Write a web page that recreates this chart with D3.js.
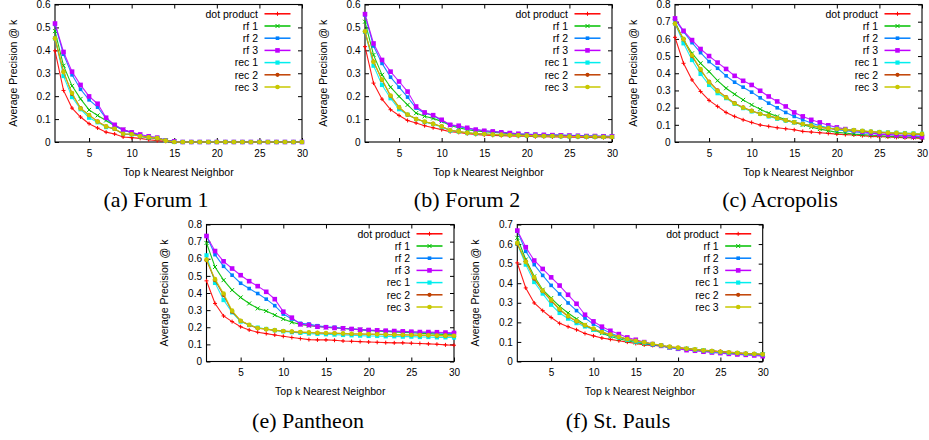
<!DOCTYPE html>
<html><head><meta charset="utf-8">
<script src="https://cdn.jsdelivr.net/npm/d3@7"></script>
<style>body{margin:0;background:#fff}</style>
</head><body>
<svg id="chart" width="929" height="440"></svg>
<script>
// ---------- data ----------
const kValues = [1,2,3,4,5,6,7,8,9,10,11,12,13,14,15,16,17,18,19,20,21,22,23,24,25,26,27,28,29,30];
const seriesNames = ["dot product","rf 1","rf 2","rf 3","rec 1","rec 2","rec 3"];
const seriesColors = ["#ff0000","#00c000","#0080ff","#c000ff","#00eeee","#c04000","#c8c800"];
const xTickValues = [5,10,15,20,25,30];
const yTicks06 = [0,0.1,0.2,0.3,0.4,0.5,0.6];
const yTicks07 = [0,0.1,0.2,0.3,0.4,0.5,0.6,0.7];
const yTicks08 = [0,0.1,0.2,0.3,0.4,0.5,0.6,0.7,0.8];
const panelCaptions = ["(a) Forum 1","(b) Forum 2","(c) Acropolis","(e) Pantheon","(f) St. Pauls"];
const xTitle = "Top k Nearest Neighbor";
const yTitle = "Average Precision @ k";

const forum1 = [
 [0.398,0.225,0.148,0.109,0.080,0.061,0.043,0.035,0.022,0.019,0.016,0.010,0.006,0.003,0,0,0,0,0,0,0,0,0,0,0,0,0,0,0,0],
 [0.484,0.333,0.245,0.188,0.140,0.116,0.094,0.071,0.054,0.040,0.025,0.019,0.016,0.007,0.003,0,0,0,0,0,0,0,0,0,0,0,0,0,0,0],
 [0.513,0.383,0.293,0.230,0.184,0.152,0.103,0.071,0.051,0.042,0.028,0.022,0.019,0.007,0.003,0,0,0,0,0,0,0,0,0,0,0,0,0,0,0],
 [0.517,0.393,0.307,0.249,0.199,0.167,0.106,0.075,0.054,0.042,0.033,0.025,0.019,0.007,0.003,0,0,0,0,0,0,0,0,0,0,0,0,0,0,0],
 [0.452,0.288,0.196,0.143,0.106,0.086,0.065,0.057,0.035,0.033,0.025,0.020,0.017,0.006,0,0,0,0,0,0,0,0,0,0,0,0,0,0,0,0],
 [0.452,0.307,0.210,0.148,0.117,0.090,0.068,0.057,0.035,0.034,0.025,0.020,0.017,0.006,0,0,0,0,0,0,0,0,0,0,0,0,0,0,0,0],
 [0.452,0.305,0.214,0.146,0.118,0.089,0.068,0.058,0.036,0.034,0.025,0.021,0.017,0.006,0,0,0,0,0,0,0,0,0,0,0,0,0,0,0,0]
];
const forum2 = [
 [0.416,0.257,0.187,0.141,0.116,0.094,0.083,0.071,0.062,0.054,0.045,0.042,0.036,0.033,0.030,0.029,0.028,0.026,0.025,0.025,0.023,0.023,0.022,0.022,0.021,0.021,0.020,0.020,0.019,0.019],
 [0.525,0.380,0.293,0.239,0.199,0.162,0.126,0.112,0.103,0.090,0.072,0.062,0.054,0.048,0.045,0.042,0.039,0.036,0.033,0.032,0.031,0.030,0.029,0.028,0.027,0.026,0.025,0.024,0.024,0.023],
 [0.554,0.419,0.343,0.283,0.239,0.196,0.148,0.126,0.116,0.094,0.074,0.068,0.059,0.054,0.049,0.046,0.043,0.039,0.036,0.035,0.033,0.032,0.031,0.030,0.029,0.028,0.027,0.026,0.025,0.025],
 [0.558,0.430,0.358,0.307,0.264,0.220,0.155,0.129,0.117,0.097,0.075,0.071,0.062,0.054,0.049,0.046,0.042,0.039,0.036,0.033,0.032,0.031,0.030,0.029,0.028,0.027,0.026,0.026,0.025,0.025],
 [0.481,0.333,0.249,0.191,0.143,0.119,0.100,0.087,0.078,0.065,0.049,0.045,0.039,0.036,0.035,0.033,0.031,0.030,0.029,0.028,0.027,0.026,0.026,0.025,0.024,0.024,0.023,0.023,0.022,0.022],
 [0.481,0.351,0.271,0.201,0.151,0.119,0.101,0.088,0.080,0.068,0.051,0.046,0.040,0.037,0.035,0.033,0.031,0.030,0.029,0.028,0.027,0.026,0.026,0.025,0.024,0.024,0.023,0.023,0.022,0.022],
 [0.483,0.349,0.273,0.203,0.152,0.120,0.100,0.089,0.079,0.068,0.051,0.046,0.040,0.037,0.035,0.033,0.032,0.030,0.029,0.028,0.027,0.026,0.026,0.025,0.024,0.024,0.023,0.023,0.022,0.022]
];
const acropolis = [
 [0.609,0.458,0.361,0.294,0.242,0.207,0.172,0.149,0.129,0.114,0.099,0.091,0.083,0.077,0.071,0.062,0.058,0.054,0.050,0.046,0.043,0.041,0.037,0.033,0.031,0.029,0.027,0.025,0.023,0.021],
 [0.700,0.593,0.516,0.458,0.410,0.357,0.313,0.278,0.245,0.216,0.191,0.168,0.149,0.129,0.114,0.100,0.087,0.075,0.066,0.056,0.052,0.046,0.043,0.039,0.037,0.033,0.031,0.029,0.027,0.025],
 [0.713,0.642,0.578,0.520,0.468,0.429,0.385,0.348,0.319,0.290,0.257,0.226,0.199,0.172,0.149,0.129,0.110,0.095,0.081,0.071,0.066,0.060,0.054,0.050,0.046,0.043,0.041,0.039,0.037,0.033],
 [0.719,0.647,0.593,0.541,0.500,0.462,0.425,0.385,0.356,0.332,0.298,0.265,0.236,0.207,0.172,0.149,0.129,0.114,0.097,0.085,0.075,0.066,0.060,0.052,0.046,0.043,0.039,0.035,0.033,0.029],
 [0.690,0.574,0.477,0.396,0.332,0.284,0.255,0.222,0.197,0.178,0.164,0.149,0.135,0.124,0.114,0.104,0.097,0.089,0.083,0.077,0.071,0.068,0.064,0.060,0.058,0.056,0.054,0.052,0.050,0.048],
 [0.690,0.597,0.500,0.419,0.352,0.300,0.261,0.226,0.201,0.182,0.164,0.153,0.139,0.126,0.114,0.104,0.095,0.085,0.079,0.075,0.071,0.068,0.064,0.060,0.056,0.052,0.050,0.048,0.046,0.044],
 [0.688,0.600,0.505,0.424,0.348,0.296,0.259,0.224,0.199,0.180,0.163,0.152,0.138,0.126,0.115,0.105,0.096,0.086,0.080,0.076,0.072,0.069,0.065,0.061,0.058,0.055,0.053,0.051,0.049,0.047]
];
const pantheon = [
 [0.471,0.339,0.266,0.233,0.203,0.184,0.171,0.163,0.155,0.147,0.140,0.134,0.128,0.126,0.126,0.124,0.120,0.118,0.116,0.114,0.112,0.110,0.109,0.109,0.107,0.105,0.103,0.101,0.097,0.095],
 [0.692,0.552,0.475,0.417,0.374,0.339,0.310,0.295,0.271,0.248,0.229,0.217,0.209,0.205,0.200,0.196,0.193,0.189,0.186,0.182,0.179,0.176,0.173,0.170,0.168,0.165,0.163,0.160,0.158,0.156],
 [0.733,0.624,0.556,0.504,0.457,0.426,0.397,0.364,0.326,0.277,0.248,0.223,0.219,0.209,0.203,0.200,0.194,0.190,0.186,0.182,0.180,0.178,0.176,0.174,0.172,0.171,0.169,0.167,0.165,0.163],
 [0.733,0.645,0.585,0.543,0.504,0.469,0.440,0.407,0.364,0.291,0.256,0.217,0.213,0.203,0.200,0.196,0.194,0.190,0.186,0.184,0.182,0.180,0.178,0.176,0.174,0.172,0.172,0.171,0.169,0.167],
 [0.620,0.459,0.359,0.287,0.233,0.213,0.198,0.190,0.182,0.176,0.171,0.167,0.163,0.161,0.159,0.157,0.155,0.153,0.151,0.149,0.149,0.147,0.147,0.145,0.145,0.143,0.143,0.141,0.141,0.140],
 [0.591,0.475,0.388,0.291,0.238,0.213,0.194,0.188,0.182,0.178,0.174,0.171,0.169,0.167,0.165,0.165,0.163,0.161,0.161,0.159,0.159,0.157,0.157,0.155,0.155,0.153,0.153,0.151,0.151,0.149],
 [0.595,0.481,0.397,0.297,0.238,0.214,0.196,0.189,0.183,0.178,0.175,0.172,0.170,0.168,0.166,0.165,0.164,0.162,0.161,0.160,0.159,0.158,0.157,0.156,0.155,0.154,0.153,0.152,0.151,0.150]
];
const stPauls = [
 [0.504,0.376,0.299,0.260,0.225,0.195,0.178,0.162,0.143,0.131,0.120,0.113,0.106,0.099,0.092,0.085,0.082,0.079,0.073,0.070,0.067,0.061,0.058,0.055,0.051,0.048,0.044,0.041,0.038,0.034],
 [0.632,0.521,0.435,0.367,0.324,0.282,0.248,0.217,0.188,0.162,0.145,0.128,0.116,0.106,0.097,0.090,0.084,0.079,0.072,0.068,0.065,0.060,0.056,0.051,0.048,0.044,0.041,0.039,0.038,0.036],
 [0.666,0.563,0.495,0.440,0.389,0.345,0.299,0.260,0.222,0.191,0.167,0.145,0.128,0.114,0.102,0.094,0.085,0.079,0.072,0.067,0.061,0.058,0.053,0.050,0.046,0.043,0.039,0.036,0.034,0.031],
 [0.669,0.584,0.516,0.473,0.430,0.388,0.341,0.295,0.239,0.205,0.178,0.157,0.140,0.123,0.111,0.099,0.089,0.080,0.072,0.065,0.058,0.055,0.050,0.046,0.043,0.039,0.036,0.034,0.031,0.027],
 [0.601,0.495,0.406,0.347,0.290,0.248,0.219,0.196,0.179,0.162,0.149,0.133,0.123,0.111,0.102,0.096,0.089,0.082,0.073,0.068,0.065,0.060,0.056,0.051,0.048,0.044,0.043,0.039,0.038,0.036],
 [0.601,0.512,0.423,0.359,0.311,0.265,0.230,0.205,0.184,0.166,0.150,0.137,0.125,0.114,0.106,0.097,0.089,0.082,0.075,0.070,0.065,0.061,0.056,0.053,0.050,0.046,0.043,0.041,0.039,0.036],
 [0.606,0.509,0.430,0.362,0.316,0.268,0.233,0.207,0.186,0.168,0.151,0.138,0.126,0.115,0.106,0.098,0.090,0.083,0.076,0.071,0.066,0.062,0.057,0.054,0.050,0.047,0.044,0.041,0.039,0.037]
];
const panelData = [forum1, forum2, acropolis, pantheon, stPauls];
const panelYTicks = [yTicks06, yTicks06, yTicks08, yTicks08, yTicks07];

// ---------- layout (positions only) ----------
const layout = [
  {left:55,    right:302,   top:4.5,   bottom:142,   capX:156, capY:207},
  {left:365,   right:612,   top:4.5,   bottom:142,   capX:467, capY:207},
  {left:675,   right:922,   top:4.5,   bottom:142,   capX:780, capY:207},
  {left:206.5, right:454,   top:224.5, bottom:361.5, capX:308, capY:428},
  {left:517.3, right:762.7, top:224.5, bottom:361.5, capX:618, capY:428}
];
const sansFont = "'Liberation Sans', Arial, Helvetica, sans-serif";
const serifFont = "'Liberation Serif', 'Times New Roman', Times, serif";
const tickFontSize = 10;
const titleFontSize = 10.5;

const svg = d3.select("#chart");
svg.append("rect").attr("width",929).attr("height",440).attr("fill","#fff");

function drawMarker(g, idx, cx, cy, color) {
  if (idx === 0) {
    g.append("path").attr("d",`M${cx-2},${cy}H${cx+2}M${cx},${cy-2}V${cy+2}`)
      .attr("stroke",color).attr("stroke-width",1).attr("fill","none");
  } else if (idx === 1) {
    g.append("path").attr("d",`M${cx-2},${cy-2}L${cx+2},${cy+2}M${cx-2},${cy+2}L${cx+2},${cy-2}`)
      .attr("stroke",color).attr("stroke-width",1).attr("fill","none");
  } else if (idx === 2 || idx === 3 || idx === 4) {
    const s = idx === 3 ? 4.6 : (idx === 4 ? 4.2 : 3.6);
    g.append("rect").attr("x",cx-s/2).attr("y",cy-s/2).attr("width",s).attr("height",s)
      .attr("fill",color);
  } else {
    g.append("circle").attr("cx",cx).attr("cy",cy).attr("r", idx === 6 ? 2.3 : 2.1)
      .attr("fill",color);
  }
}

panelData.forEach((series, p) => {
  const L = layout[p];
  const yTicks = panelYTicks[p];
  const yMax = yTicks[yTicks.length-1];
  const x = d3.scaleLinear().domain([1,30]).range([L.left, L.right]);
  const y = d3.scaleLinear().domain([0,yMax]).range([L.bottom, L.top]);
  const g = svg.append("g");

  const fmt = v => v === 0 ? "0" : d3.format(".1f")(v);

  // axes (ticks inward, mirrored)
  const axL = g.append("g").attr("transform",`translate(${L.left},0)`)
    .call(d3.axisLeft(y).tickValues(yTicks).tickFormat(fmt).tickSizeInner(-4).tickSizeOuter(0).tickPadding(4.5));
  const axR = g.append("g").attr("transform",`translate(${L.right},0)`)
    .call(d3.axisRight(y).tickValues(yTicks).tickFormat("").tickSizeInner(-4).tickSizeOuter(0));
  const axB = g.append("g").attr("transform",`translate(0,${L.bottom})`)
    .call(d3.axisBottom(x).tickValues(xTickValues).tickSizeInner(-4).tickSizeOuter(0).tickPadding(7.8));
  const axT = g.append("g").attr("transform",`translate(0,${L.top})`)
    .call(d3.axisTop(x).tickValues(xTickValues).tickFormat("").tickSizeInner(-4).tickSizeOuter(0));
  [axL,axR,axB,axT].forEach(a => {
    a.select(".domain").remove();
    a.selectAll("line").attr("stroke","#000").attr("stroke-width",1);
    a.selectAll("text").attr("font-family",sansFont).attr("font-size",tickFontSize).attr("fill","#000");
  });

  // frame
  g.append("rect").attr("x",L.left).attr("y",L.top)
    .attr("width",L.right-L.left).attr("height",L.bottom-L.top)
    .attr("fill","none").attr("stroke","#000").attr("stroke-width",1.1);

  // axis titles
  g.append("text").attr("x",(L.left+L.right)/2).attr("y",L.bottom+33.5)
    .attr("text-anchor","middle").attr("font-family",sansFont).attr("font-size",titleFontSize)
    .text(xTitle);
  const ty = (L.top+L.bottom)/2;
  g.append("text").attr("transform",`translate(${L.left-38.3},${ty}) rotate(-90)`)
    .attr("text-anchor","middle").attr("font-family",sansFont).attr("font-size",titleFontSize)
    .text(yTitle);

  // caption
  svg.append("text").attr("x",L.capX).attr("y",L.capY).attr("text-anchor","middle")
    .attr("font-family",serifFont).attr("font-size",22).attr("fill","#000")
    .text(panelCaptions[p]);

  // series
  const line = d3.line().x((d,i) => x(kValues[i])).y(d => y(d));
  series.forEach((vals, si) => {
    const color = seriesColors[si];
    const sg = g.append("g");
    sg.append("path").attr("d",line(vals)).attr("fill","none")
      .attr("stroke",color).attr("stroke-width",1.1).attr("stroke-opacity",0.9);
    vals.forEach((v,i) => drawMarker(sg, si, x(kValues[i]), y(v), color));
  });

  // legend
  seriesNames.forEach((name, si) => {
    const ly = L.top + 9.3 + si*12.2;
    const color = seriesColors[si];
    g.append("text").attr("x",L.right-44).attr("y",ly+3.7).attr("text-anchor","end")
      .attr("font-family",sansFont).attr("font-size",titleFontSize).attr("fill","#000").text(name);
    g.append("line").attr("x1",L.right-37.5).attr("x2",L.right-11.5).attr("y1",ly).attr("y2",ly)
      .attr("stroke",color).attr("stroke-width",1.5);
    drawMarker(g, si, L.right-24.5, ly, color);
  });
});
</script>
</body></html>
